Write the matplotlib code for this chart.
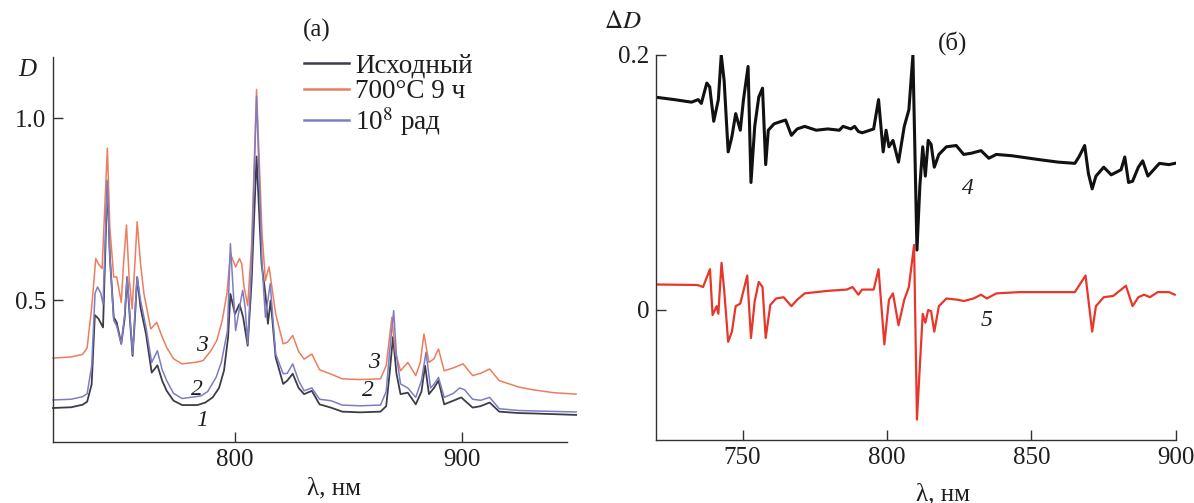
import matplotlib
matplotlib.use("Agg")
import matplotlib.pyplot as plt

plt.rcParams['font.family'] = ['Liberation Serif', 'DejaVu Serif']
plt.rcParams['mathtext.fontset'] = 'stix'

# ---- panel (a): absorption spectra ----
wl_1 = [720, 728, 733, 735, 737, 738.4, 740, 742, 743.9, 745, 746.7, 748, 750, 751.5, 752.6, 753.8,
        755, 756, 757, 758.5, 760.9, 763.4, 765.9, 768, 770, 773, 776.8, 783.5, 787, 790.2, 793,
        795.2, 797, 798, 800, 802, 803.6, 805.6, 807.3, 809.5, 811.7, 813.4, 814.5, 815.7, 817.9,
        821.2, 823, 825.4, 828, 830.4, 833.8, 837.2, 842.2, 847.2, 855, 864, 866.5, 868, 869.5,
        871, 872.8, 876, 879.5, 882, 883.6, 885.3, 887.5, 889.5, 892, 896, 899.5, 904.5, 908,
        912, 916.2, 925, 931.3, 950]
d_1 = [0.205, 0.207, 0.214, 0.222, 0.27, 0.46, 0.45, 0.426, 0.826, 0.62, 0.454, 0.44, 0.381, 0.45,
       0.564, 0.45, 0.348, 0.45, 0.564, 0.48, 0.408, 0.302, 0.322, 0.28, 0.252, 0.225, 0.213, 0.213,
       0.22, 0.234, 0.26, 0.308, 0.40, 0.518, 0.463, 0.49, 0.454, 0.376, 0.55, 0.895, 0.601, 0.518,
       0.436, 0.50, 0.344, 0.271, 0.28, 0.299, 0.26, 0.243, 0.252, 0.215, 0.206, 0.195, 0.193,
       0.195, 0.21, 0.30, 0.40, 0.30, 0.243, 0.247, 0.215, 0.25, 0.321, 0.243, 0.26, 0.280, 0.215,
       0.225, 0.234, 0.206, 0.21, 0.22, 0.195, 0.191, 0.19, 0.186]

wl_2 = [720, 728, 733, 735, 737, 738.5, 739.6, 741, 742, 743.9, 745, 746.7, 748, 750, 751.5, 752.6,
        753.8, 755, 756, 757, 758.5, 760.9, 763.4, 765.9, 768, 770, 773, 776.8, 785, 788, 791.7, 794,
        796.7, 798, 800.3, 802, 803.4, 804.5, 805.6, 807.3, 809.5, 811.9, 813.4, 815.5, 817.9, 821.2,
        823, 825.4, 828, 830.4, 833.8, 837.2, 842.2, 847.2, 855, 864, 866.5, 868, 869.8, 871, 872.8,
        876, 879.5, 882, 884, 886, 887.5, 889.5, 892, 896, 898.8, 901, 904.5, 908, 912, 916.2, 925,
        950]
d_2 = [0.227, 0.229, 0.236, 0.244, 0.32, 0.52, 0.537, 0.52, 0.49, 0.83, 0.62, 0.445, 0.43, 0.381,
       0.46, 0.564, 0.46, 0.353, 0.46, 0.564, 0.50, 0.426, 0.33, 0.362, 0.31, 0.28, 0.245, 0.231,
       0.238, 0.25, 0.289, 0.33, 0.417, 0.656, 0.417, 0.48, 0.528, 0.48, 0.381, 0.60, 1.06, 0.60,
       0.454, 0.546, 0.353, 0.299, 0.30, 0.326, 0.28, 0.252, 0.26, 0.229, 0.225, 0.213, 0.211,
       0.213, 0.25, 0.36, 0.472, 0.35, 0.271, 0.26, 0.234, 0.28, 0.358, 0.26, 0.27, 0.289, 0.234,
       0.245, 0.26, 0.255, 0.229, 0.226, 0.234, 0.203, 0.198, 0.194]

wl_3 = [720, 728, 733, 735, 737, 738.8, 740, 741.6, 743.9, 745, 746.7, 748, 750, 751, 752.3, 753.5,
        754.8, 756, 757, 758.5, 760, 763, 765.6, 768, 770, 773, 776.8, 783.5, 786, 789.4, 792, 794.4,
        796.5, 798, 800.3, 802, 803, 804, 805.6, 807.3, 809.5, 811.9, 813.4, 815, 817.9, 821.2, 823,
        825.4, 828, 830.4, 833.8, 837.2, 842.2, 847.2, 855, 864, 866.5, 869, 870.5, 872.8, 876, 879.5,
        881.5, 883.1, 885.3, 887.5, 889.5, 892, 896, 900.3, 904.5, 908, 912, 916.2, 925, 931, 940,
        950]
d_3 = [0.342, 0.345, 0.352, 0.37, 0.48, 0.615, 0.60, 0.588, 0.918, 0.70, 0.564, 0.565, 0.495, 0.60,
       0.707, 0.56, 0.477, 0.60, 0.716, 0.60, 0.518, 0.422, 0.44, 0.40, 0.371, 0.34, 0.326, 0.331,
       0.335, 0.362, 0.39, 0.445, 0.52, 0.629, 0.592, 0.615, 0.60, 0.537, 0.486, 0.65, 1.079, 0.684,
       0.555, 0.592, 0.463, 0.381, 0.385, 0.404, 0.36, 0.339, 0.353, 0.310, 0.298, 0.285, 0.283,
       0.285, 0.321, 0.454, 0.36, 0.307, 0.33, 0.294, 0.33, 0.408, 0.33, 0.34, 0.367, 0.307, 0.315,
       0.326, 0.294, 0.30, 0.312, 0.28, 0.262, 0.255, 0.247, 0.243]

legend_labels = ["Исходный", "700°C 9 ч", "10$^{8}$ рад"]

# ---- panel (б): difference spectra ----
wl_4 = [719.5, 726.4, 732.3, 734.6, 735.7, 737.6, 738.6, 740, 741.6, 742.6, 743.6, 745, 746.3, 747.6,
        749.2, 750.3, 751.9, 752.9, 754.2, 755.6, 756.9, 758, 758.9, 760.9, 763.5, 764.9, 766.9, 768.9,
        771.5, 775.5, 779.5, 783.5, 784.8, 787.5, 788.8, 790.1, 791.4, 792.8, 795.4, 797.1, 798.7,
        799.7, 800.7, 802.1, 804, 806, 807.6, 809, 810.4, 811.4, 812.4, 813.3, 814.3, 815.3, 816.4,
        818, 820.6, 824, 826.6, 829.3, 832.6, 835.3, 837.9, 843.2, 852.5, 859.2, 865.1, 866.5, 868.5,
        869.8, 871.1, 872.4, 875.1, 877.7, 881.1, 882.4, 883.7, 885.1, 887.1, 888.6, 890.4, 892.4,
        894.4, 897.7, 899.7]
dd_4 = [0.167, 0.165, 0.163, 0.165, 0.162, 0.178, 0.175, 0.148, 0.165, 0.2, 0.18, 0.124, 0.136,
        0.154, 0.141, 0.165, 0.191, 0.100, 0.144, 0.167, 0.174, 0.114, 0.141, 0.146, 0.148, 0.149,
        0.137, 0.142, 0.144, 0.141, 0.142, 0.141, 0.144, 0.142, 0.144, 0.140, 0.139, 0.140, 0.142,
        0.165, 0.124, 0.141, 0.128, 0.133, 0.116, 0.144, 0.157, 0.2, 0.047, 0.097, 0.128, 0.105,
        0.133, 0.130, 0.112, 0.122, 0.128, 0.129, 0.122, 0.123, 0.125, 0.119, 0.122, 0.121, 0.118,
        0.116, 0.115, 0.120, 0.129, 0.107, 0.095, 0.105, 0.112, 0.106, 0.110, 0.120, 0.100, 0.101,
        0.112, 0.117, 0.105, 0.110, 0.115, 0.114, 0.115]

wl_5 = [719.5, 734.3, 736.3, 738.7, 739.6, 741, 741.6, 742.7, 743.6, 745, 746.3, 747.6, 749.2, 751.6,
        752.9, 754.2, 755.6, 756.9, 758, 759.6, 761.6, 764.2, 766.9, 768.9, 771.5, 779.5, 786.1, 788.1,
        790.1, 791.4, 795.4, 797.1, 799.1, 800.7, 802.1, 804, 806, 807.6, 809.4, 810.4, 811.4, 812.4,
        813.3, 814.3, 815.3, 816.4, 818, 820.6, 824.6, 826.6, 830, 832.6, 834.6, 837.9, 845.9, 865.1,
        868.8, 871.1, 872.4, 875.1, 878.4, 882.8, 885.1, 887.1, 889.1, 891.1, 893.8, 897.7, 899.7]
dd_5 = [0.020, 0.0196, 0.018, 0.032, -0.004, 0.003, -0.003, 0.037, 0.016, -0.025, -0.017, 0.003,
        0.005, 0.027, -0.022, 0.007, 0.022, 0.018, -0.022, 0.004, 0.009, 0.010, 0.003, 0.008, 0.013,
        0.015, 0.016, 0.018, 0.012, 0.016, 0.016, 0.032, -0.027, 0.008, 0.013, -0.012, 0.008, 0.018,
        0.051, -0.086, -0.044, -0.003, -0.010, 0.0, -0.001, -0.017, 0.003, 0.009, 0.008, 0.007, 0.009,
        0.012, 0.009, 0.013, 0.014, 0.014, 0.027, -0.017, 0.003, 0.010, 0.011, 0.019, 0.003, 0.010,
        0.012, 0.010, 0.014, 0.014, 0.012]

W, H = 1194, 503
fig = plt.figure(figsize=(W / 100, H / 100), dpi=100)

def frac(x0, y_top, x1, y_bot):
    return [x0 / W, 1 - y_bot / H, (x1 - x0) / W, (y_bot - y_top) / H]

spine_col = '#333333'
txt_col = '#1e1e1e'
fs = 18

def style(ax):
    for s in ['top', 'right']:
        ax.spines[s].set_visible(False)
    for s in ['left', 'bottom']:
        ax.spines[s].set_color(spine_col)
        ax.spines[s].set_linewidth(1.0)
    ax.tick_params(direction='in', length=7, width=1.0, color=spine_col,
                   labelsize=fs, pad=5, labelcolor=txt_col)

# panel (a)
ax1 = fig.add_axes(frac(53, 57, 567, 441.7))
style(ax1)
ax1.plot(wl_1, d_1, color='#3e3c4a', lw=1.3, label=legend_labels[0], clip_on=False)
ax1.plot(wl_3, d_3, color='#ec7d5e', lw=1.1, label=legend_labels[1], clip_on=False)
ax1.plot(wl_2, d_2, color='#7d7dc4', lw=1.1, label=legend_labels[2], clip_on=False)
ax1.set_xlim(720, 946)
ax1.set_ylim(0.1125, 1.168)
ax1.set_xticks([800, 900])
ax1.set_yticks([0.5, 1.0])
ax1.set_yticklabels(['0.5', '1.0'])
leg = ax1.legend(loc='upper left', bbox_to_anchor=((304 - 53) / 514, 1.008), frameon=False,
                 fontsize=19.5, handlelength=1.65, handletextpad=0.25, labelspacing=0.02,
                 borderaxespad=0, borderpad=0)
for h in leg.get_lines():
    h.set_linewidth(1.8)
for t in leg.get_texts():
    t.set_color(txt_col)

for txt, x, y in [('3', 785.4, 0.376), ('2', 783.4, 0.255), ('1', 785.4, 0.17),
                  ('3', 861.3, 0.329), ('2', 858.3, 0.252)]:
    ax1.text(x, y, txt, fontsize=17, style='italic', ha='center', va='center', color=txt_col)

fig.text(317 / W, 1 - 30 / H, '(a)', fontsize=fs, ha='center', va='center', color=txt_col)
fig.text(27 / W, 1 - 70 / H, 'D', fontsize=fs, style='italic', ha='center', va='center',
         color=txt_col)
fig.text(334 / W, 1 - 488 / H, 'λ, нм', fontsize=fs, ha='center', va='center', color=txt_col)

# panel (б)
ax2 = fig.add_axes(frac(656, 55, 1175.6, 440))
style(ax2)
ax2.plot(wl_5, dd_5, color='#e8372a', lw=1.6)
ax2.plot(wl_4, dd_4, color='#111111', lw=2.2)
ax2.set_xlim(720, 900)
ax2.set_ylim(-0.102, 0.2)
ax2.set_xticks([750, 800, 850, 900])
ax2.set_yticks([0, 0.2])
ax2.set_yticklabels(['0', '0.2'])
ax2.text(828, 0.0954, '4', fontsize=17, style='italic', ha='center', va='center', color=txt_col)
ax2.text(834.6, -0.008, '5', fontsize=17, style='italic', ha='center', va='center', color=txt_col)

fig.text(953 / W, 1 - 43 / H, '(б)', fontsize=fs, ha='center', va='center', color=txt_col)
fig.text(623 / W, 1 - 22 / H, r'$\Delta D$', fontsize=fs, ha='center', va='center',
         color=txt_col)
fig.text(943 / W, 1 - 494 / H, 'λ, нм', fontsize=fs, ha='center', va='center', color=txt_col)

fig.savefig('out.png', dpi=100)
